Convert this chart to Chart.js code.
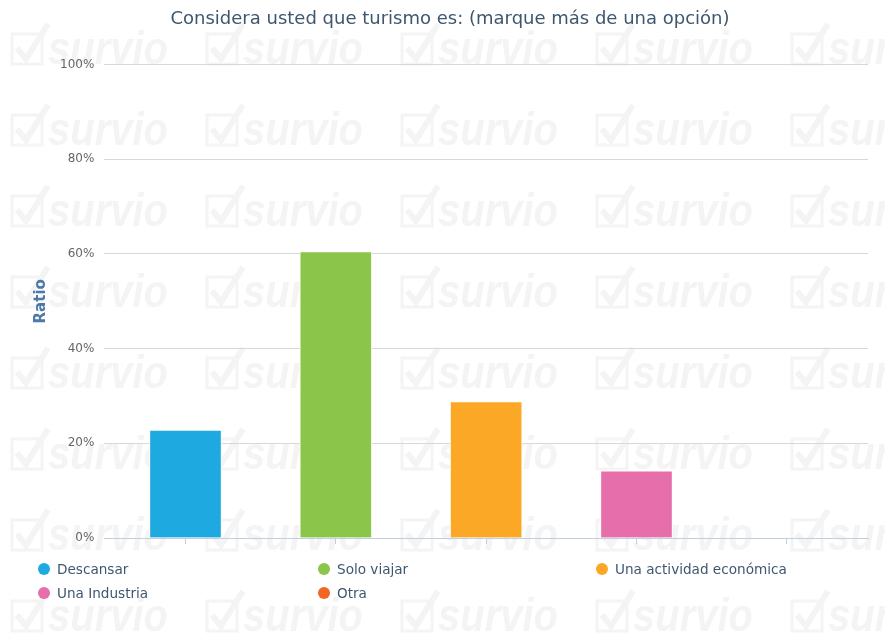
<!DOCTYPE html>
<html>
<head>
<meta charset="utf-8">
<script src="https://cdn.jsdelivr.net/npm/chart.js@4.4.1/dist/chart.umd.min.js"></script>
<style>
  html, body { margin: 0; padding: 0; background: #fff; }
  #wrap { position: relative; width: 885px; height: 634px; }
  #legend { position: absolute; left: 38px; top: 561px; width: 840px; font-family: "DejaVu Sans", sans-serif; font-size: 13.6px; color: #3e576f; }
  .item { position: absolute; white-space: nowrap; }
  .dot { display: inline-block; width: 12px; height: 12px; border-radius: 50%; margin-right: 7px; vertical-align: -1px; }
</style>
</head>
<body>
<div id="wrap">
  <canvas id="chart" width="885" height="634"></canvas>
  <div id="legend"></div>
</div>
<script>
// survey answers
const categories = ["Descansar", "Solo viajar", "Una actividad económica", "Una Industria", "Otra"];
const ratios = [22.8, 60.5, 28.8, 14.2, 0];
const colors = ["#1fa9e1", "#8bc54a", "#fba826", "#e66eaa", "#f26522"];
const yTicks = [0, 20, 40, 60, 80, 100];

// faint watermark behind the chart
const watermark = {
  id: "watermark",
  beforeDraw(chart) {
    const ctx = chart.ctx;
    ctx.save();
    ctx.fillStyle = "#f4f4f4";
    ctx.strokeStyle = "#f4f4f4";
    ctx.font = "italic bold 46px 'Liberation Sans', sans-serif";
    ctx.textBaseline = "alphabetic";
    const sx = 120 / ctx.measureText("survio").width;
    for (let row = 0; row < 9; row++) {
      const y = 64 + row * 81;
      for (let col = 0; col < 5; col++) {
        const x = 12 + col * 195;
        ctx.lineWidth = 3;
        ctx.strokeRect(x, y - 30, 30, 30);
        ctx.lineWidth = 6;
        ctx.beginPath();
        ctx.moveTo(x + 5, y - 16);
        ctx.lineTo(x + 14, y - 5);
        ctx.lineTo(x + 36, y - 40);
        ctx.stroke();
        ctx.save();
        ctx.translate(x + 36, y);
        ctx.scale(sx, 1);
        ctx.fillText("survio", 0, 0);
        ctx.restore();
      }
    }
    ctx.restore();
  }
};

new Chart(document.getElementById("chart"), {
  type: "bar",
  data: {
    datasets: [{
      data: ratios.map((v, i) => ({ x: i, y: v })),
      backgroundColor: colors,
      borderColor: "#ffffff",
      borderWidth: 1,
      barThickness: 72
    }]
  },
  options: {
    responsive: false,
    animation: false,
    layout: { padding: { left: 32, right: 17, top: 0, bottom: 90 } },
    plugins: {
      legend: { display: false },
      tooltip: { enabled: false },
      title: {
        display: true,
        text: "Considera usted que turismo es: (marque más de una opción)",
        color: "#3e576f",
        font: { family: "'DejaVu Sans', sans-serif", size: 18, weight: "normal" },
        padding: { top: 9, bottom: 34 }
      }
    },
    scales: {
      x: {
        type: "linear",
        offset: false,
        min: -0.54,
        max: categories.length - 0.46,
        afterBuildTicks(axis) { axis.ticks = categories.map((c, i) => ({ value: i })); },
        grid: { display: true, offset: false, drawOnChartArea: false, color: "#c0d0e0", tickLength: 6 },
        border: { color: "#c0d0e0", width: 1 },
        ticks: { display: false }
      },
      y: {
        min: 0,
        max: 100,
        afterBuildTicks(axis) { axis.ticks = yTicks.map(v => ({ value: v })); },
        grid: { color: "#d8d8d8", drawTicks: false },
        border: { display: false },
        ticks: {
          padding: 10,
          color: "#666666",
          font: { family: "'DejaVu Sans', sans-serif", size: 12 },
          callback: v => v + "%"
        },
        title: {
          display: true,
          text: "Ratio",
          color: "#4d79a8",
          font: { family: "'DejaVu Sans', sans-serif", size: 15, weight: "bold" },
          padding: { top: 0, bottom: 0 }
        }
      }
    }
  },
  plugins: [watermark]
});

// legend in three columns like the original
const legend = document.getElementById("legend");
const colX = [0, 280, 558];
categories.forEach((name, i) => {
  const el = document.createElement("div");
  el.className = "item";
  el.style.left = colX[i % 3] + "px";
  el.style.top = Math.floor(i / 3) * 24 + "px";
  el.innerHTML = '<span class="dot" style="background:' + colors[i] + '"></span>' + name;
  legend.appendChild(el);
});
</script>
</body>
</html>
